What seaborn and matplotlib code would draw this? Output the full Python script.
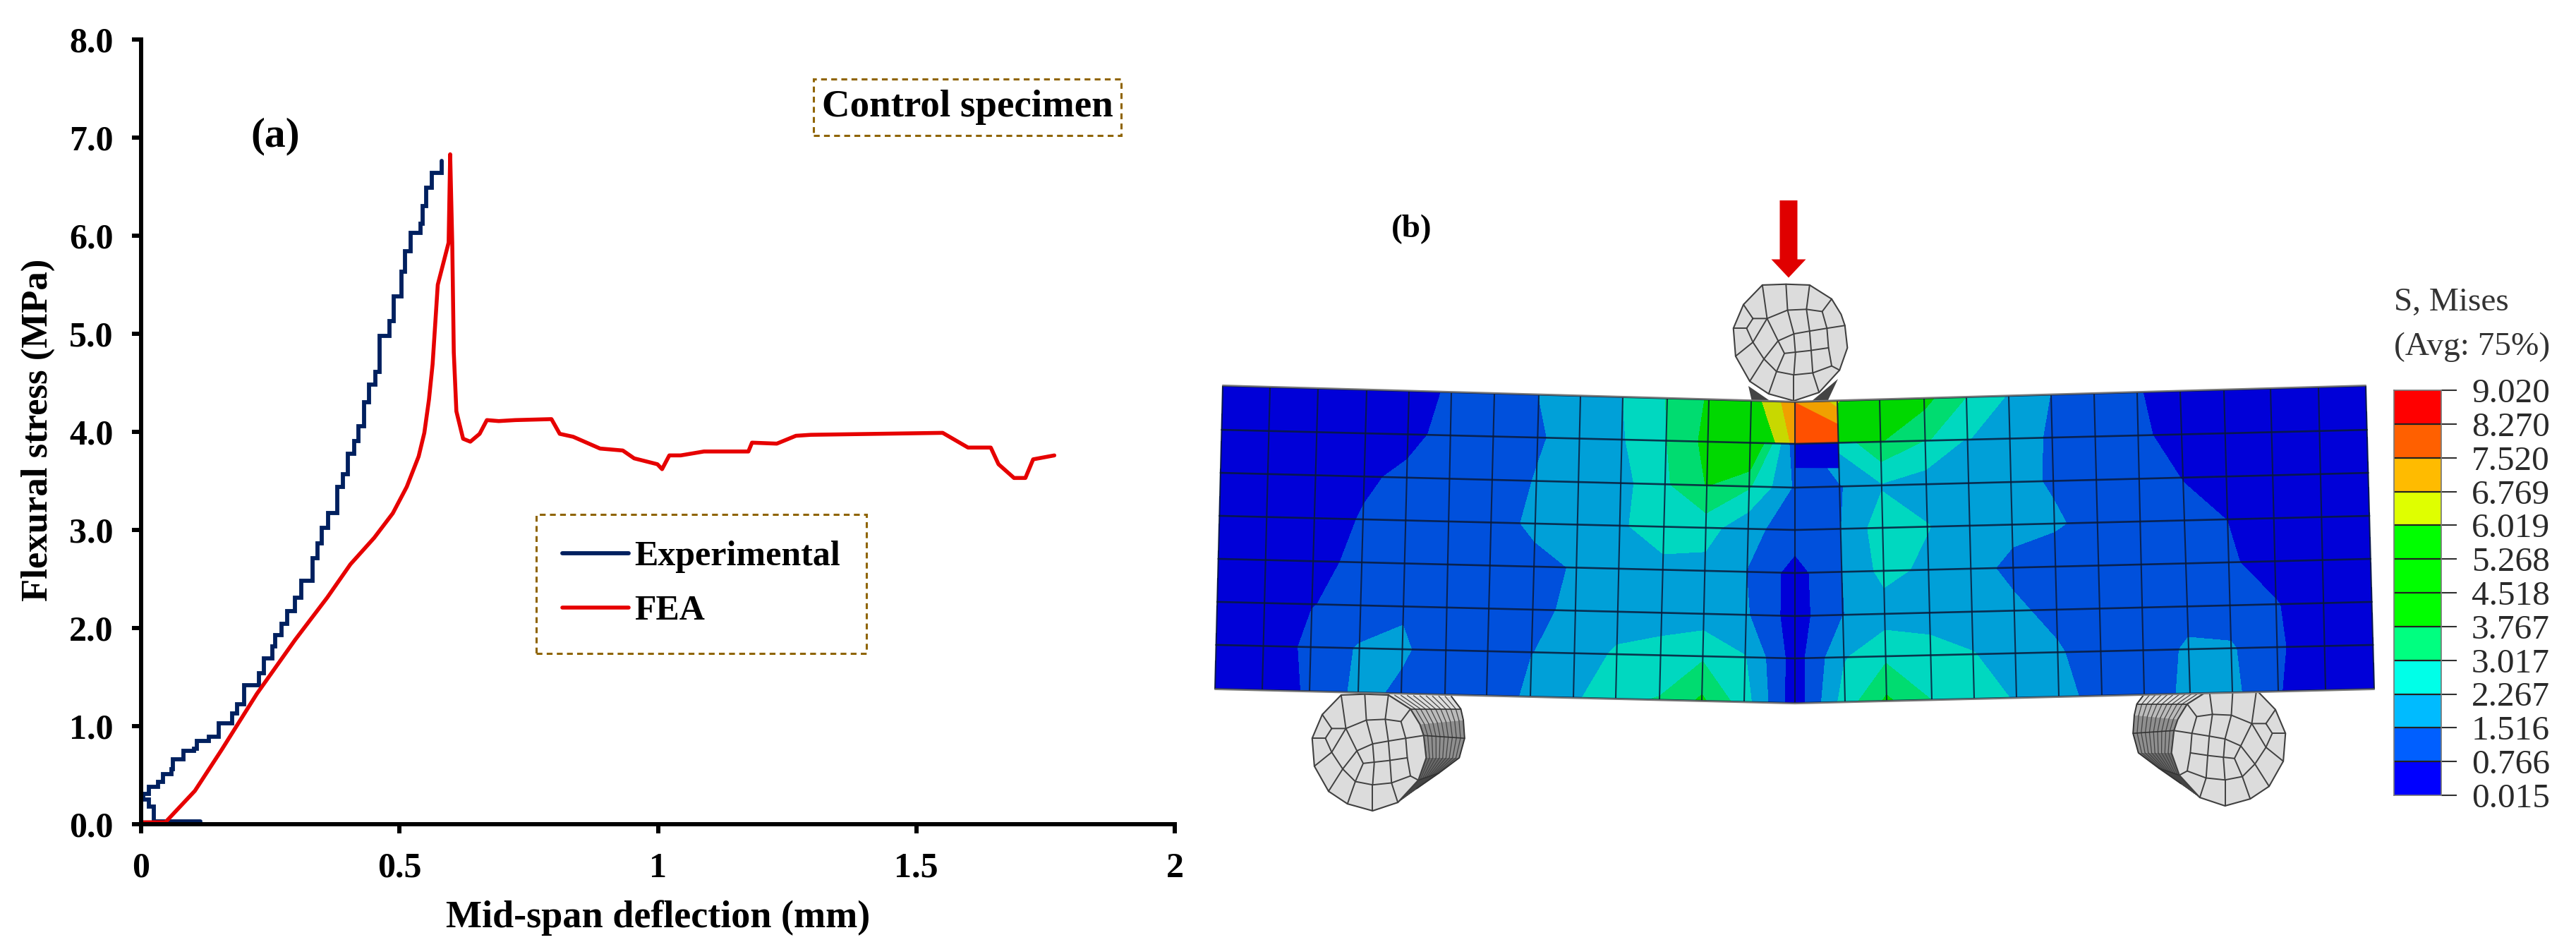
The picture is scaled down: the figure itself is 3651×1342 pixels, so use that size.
import numpy as np
import matplotlib
matplotlib.use("Agg")
import matplotlib.pyplot as plt
from matplotlib.colors import ListedColormap
from matplotlib.patches import FancyArrow, Rectangle
import seaborn as sns

# (a) curves
exp_x = [0.114, 0.025, 0.025, 0.015, 0.004, 0.015, 0.033, 0.043, 0.059, 0.061, 0.082, 0.103, 0.108, 0.131, 0.150,
         0.150, 0.176, 0.186, 0.199, 0.199, 0.228, 0.238, 0.254, 0.259, 0.271, 0.282, 0.298, 0.310, 0.332, 0.332,
         0.341, 0.350, 0.362, 0.380, 0.380, 0.391, 0.400, 0.412, 0.421, 0.432, 0.441, 0.453, 0.462, 0.481,
         0.489, 0.504, 0.511, 0.521, 0.541, 0.545, 0.551, 0.563, 0.582]
exp_y = [0.03, 0.03, 0.18, 0.25, 0.31, 0.38, 0.43, 0.51, 0.56, 0.66, 0.75, 0.77, 0.85, 0.89, 0.94,
         1.03, 1.13, 1.22, 1.32, 1.42, 1.54, 1.69, 1.81, 1.93, 2.04, 2.17, 2.31, 2.48, 2.58, 2.71,
         2.86, 3.02, 3.17, 3.26, 3.44, 3.57, 3.78, 3.91, 4.06, 4.30, 4.48, 4.61, 4.98, 5.13,
         5.38, 5.63, 5.84, 6.03, 6.12, 6.30, 6.49, 6.64, 6.76]
fea_x = [0.0, 0.047, 0.104, 0.156, 0.224, 0.298, 0.360, 0.405, 0.451, 0.487, 0.514, 0.537, 0.548, 0.557, 0.564, 0.574, 0.595,
         0.598, 0.602, 0.605, 0.610, 0.623, 0.637, 0.655, 0.669, 0.692, 0.724, 0.794, 0.810, 0.836, 0.888, 0.932, 0.954,
         0.999, 1.008, 1.022, 1.044, 1.089, 1.175, 1.182, 1.230, 1.267, 1.296, 1.551, 1.600, 1.644, 1.659, 1.689,
         1.711, 1.726, 1.767]
fea_y = [0.02, 0.02, 0.34, 0.76, 1.33, 1.88, 2.31, 2.65, 2.92, 3.17, 3.44, 3.75, 3.99, 4.33, 4.69, 5.50, 5.93,
         6.83, 5.93, 4.81, 4.21, 3.93, 3.90, 3.98, 4.12, 4.11, 4.12, 4.13, 3.98, 3.95, 3.83, 3.81, 3.73,
         3.67, 3.62, 3.76, 3.76, 3.80, 3.80, 3.89, 3.88, 3.96, 3.97, 3.99, 3.84, 3.84, 3.67, 3.53,
         3.53, 3.72, 3.76]
x_ticks = [0, 0.5, 1, 1.5, 2]
x_labels = ["0", "0.5", "1", "1.5", "2"]
y_ticks = [0, 1, 2, 3, 4, 5, 6, 7, 8]
y_labels = ["0.0", "1.0", "2.0", "3.0", "4.0", "5.0", "6.0", "7.0", "8.0"]

# (b) legend of the contour plot
level_labels = ["9.020", "8.270", "7.520", "6.769", "6.019", "5.268", "4.518",
                "3.767", "3.017", "2.267", "1.516", "0.766", "0.015"]
levels = [float(v) for v in level_labels[::-1]]
legend_colors = ["#0000FF", "#005FFF", "#00BBFF", "#00FFE8", "#00FF80", "#00FF00", "#00FF00",
                 "#00FF00", "#DFFF00", "#FFBB00", "#FF6000", "#FF0000"]
beam_colors = ["#0000D8", "#0050DC", "#00A0D8", "#00D8C0", "#00DC70", "#00D800", "#00D800",
               "#00D800", "#C8D800", "#F0A000", "#FF5000", "#E00000"]

# beam mesh, pixel position of the nodes along top and bottom face, and of the rows
top_x = [1733, 1800, 1868, 1937, 1997, 2057, 2118, 2181, 2240, 2300, 2363, 2422, 2482, 2544,
         2604, 2664, 2727, 2787, 2847, 2907, 2968, 3029, 3090, 3152, 3218, 3286, 3353]
bot_x = [1722, 1789, 1856, 1925, 1986, 2048, 2107, 2169, 2230, 2290, 2352, 2412, 2472, 2544,
         2615, 2674, 2738, 2798, 2858, 2918, 2979, 3039, 3104, 3164, 3229, 3296, 3365]
row_end_y = [547, 609, 670, 731, 792, 853, 914, 976]
row_mid_y = [570, 629, 691, 751, 812, 873, 933, 996]

# stress at the nodes, first cell row has its own values because of the jump under the load
stress_row0 = [.4, .4, .4, .4, .6, .82, 1.2, 1.52, 1.9, 2.27, 3.05, 3.85, 5.6, 7.3, 6.1, 4.6, 4.0, 3.0, 2.2, 1.5, 1.2, .8, .55, .4, .4, .4, .4]
stress_row1a = [.35, .35, .4, .5, .65, .9, 1.2, 1.45, 1.75, 2.2, 3.0, 4.0, 4.7, 7.0, 4.6, 3.8, 3.1, 2.3, 1.75, 1.45, 1.2, .85, .6, .4, .4, .4, .4]
stress_row1 = [.35, .35, .4, .5, .65, .9, 1.2, 1.45, 1.75, 2.2, 3.0, 4.0, 5.0, 1.0, 2.5, 3.7, 3.0, 2.2, 1.75, 1.45, 1.2, .85, .6, .4, .4, .4, .4]
stress_row2 = [.35, .35, .45, .7, .85, 1.0, 1.2, 1.55, 1.75, 2.0, 2.9, 3.8, 3.1, 1.4, 1.45, 2.2, 1.9, 1.85, 1.7, 1.45, 1.2, 1.0, .75, .45, .35, .35, .35]
stress_row3 = [.35, .35, .55, .8, .95, 1.1, 1.35, 1.6, 1.8, 2.1, 2.9, 2.6, 1.7, 1.2, 1.5, 2.7, 2.3, 1.9, 1.7, 1.6, 1.3, 1.1, .9, .76, .45, .35, .35]
stress_row4 = [.35, .35, .6, .9, 1.0, 1.1, 1.2, 1.4, 1.55, 1.85, 1.9, 2.0, 1.5, .45, 1.5, 2.5, 2.1, 1.75, 1.35, 1.15, 1.1, 1.0, .95, .85, .5, .35, .35]
stress_row5 = [.4, .4, .75, .9, 1.45, 1.1, 1.0, 1.3, 1.7, 1.8, 1.85, 1.85, 1.6, .4, 1.5, 1.9, 1.9, 1.85, 1.65, 1.3, 1.1, 1.05, 1.3, 1.1, .8, .4, .4]
stress_row6 = [.4, .4, .9, 1.6, 1.6, 1.2, 1.1, 1.5, 1.75, 2.4, 2.6, 2.9, 2.3, .4, 2.2, 2.85, 2.6, 2.3, 1.9, 1.6, 1.1, 1.2, 1.6, 1.6, .85, .4, .4]
stress_row7 = [.4, .4, .85, 1.7, 1.4, 1.0, .95, 1.7, 2.1, 2.9, 3.05, 3.9, 2.6, .3, 2.6, 3.9, 3.0, 2.6, 2.2, 1.7, 1.3, 1.1, 1.7, 1.7, .8, .4, .4]

# roller end face, traced once and reused for all three rollers
roller_outline = [(450, 1175), (525, 1172), (600, 1175), (670, 1225), (700, 1280), (712, 1320), (720, 1400), (695, 1480),
                  (630, 1560), (550, 1590), (470, 1565), (410, 1520), (365, 1430), (358, 1330), (390, 1245)]
roller_lines = [
    [(420, 1295), (465, 1295), (530, 1265), (590, 1262), (640, 1270), (655, 1330), (660, 1400), (670, 1465), (610, 1490),
     (550, 1497), (495, 1485), (455, 1440), (420, 1380), (400, 1330), (420, 1295)],
    [(390, 1245), (420, 1295)], [(450, 1175), (465, 1295)], [(525, 1172), (530, 1265)], [(600, 1175), (590, 1262)],
    [(670, 1225), (640, 1270)], [(712, 1320), (655, 1330)], [(358, 1330), (400, 1330)], [(365, 1430), (420, 1380)],
    [(410, 1520), (455, 1440)], [(470, 1565), (495, 1485)], [(550, 1590), (550, 1497)], [(630, 1560), (610, 1490)],
    [(695, 1480), (670, 1465)],
    [(465, 1295), (500, 1375), (520, 1420), (495, 1485)], [(420, 1380), (465, 1295)], [(455, 1440), (500, 1375)],
    [(500, 1375), (550, 1350), (600, 1340), (655, 1330)], [(520, 1420), (600, 1410), (660, 1400)],
    [(530, 1265), (550, 1350), (555, 1420), (550, 1497)], [(590, 1262), (600, 1340), (605, 1410), (610, 1490)],
]
side_inner = [(600, 1175), (670, 1225), (700, 1280), (712, 1320), (720, 1400), (695, 1480), (630, 1560)]
side_outer = [(800, 1180), (830, 1225), (838, 1265), (842, 1330), (825, 1400), (760, 1455), (690, 1510)]

W, H = 3651, 1342
box_color = "#8F6400"
box_dash = (0, (2.7, 2.0))
sns.set_style("ticks", {"text.color": "black", "axes.labelcolor": "black", "axes.edgecolor": "black",
                        "xtick.color": "black", "ytick.color": "black"})
plt.rcParams["font.family"] = ["Liberation Serif", "DejaVu Serif"]

fig = plt.figure(figsize=(W / 100, H / 100), dpi=100)
ax_b = fig.add_axes([0, 0, 1, 1], zorder=0)
ax_b.set_xlim(0, W)
ax_b.set_ylim(H, 0)
ax_b.axis("off")


def px_axes(left, top, right, bottom, **kw):
    return fig.add_axes([left / W, 1 - bottom / H, (right - left) / W, (bottom - top) / H], **kw)


# ---- panel (a)
ax = px_axes(200, 56, 1665, 1168, zorder=1)
ax.patch.set_alpha(0)
sns.lineplot(x=exp_x, y=exp_y, ax=ax, sort=False, estimator=None, color="#00205F", linewidth=4.2,
             drawstyle="steps-post", label="Experimental", solid_joinstyle="miter")
sns.lineplot(x=fea_x, y=fea_y, ax=ax, sort=False, estimator=None, color="#E60000", linewidth=4.0, label="FEA")
ax.set_xlim(0, 2)
ax.set_ylim(0, 8)
ax.set_xticks(x_ticks, x_labels)
ax.set_yticks(y_ticks, y_labels)
ax.tick_params(length=9.5, width=4.3, labelsize=36, pad=19, color="black")
for lab in ax.get_xticklabels() + ax.get_yticklabels():
    lab.set_fontweight("bold")
for line in ax.get_lines():
    line.set_clip_on(False)
sns.despine(ax=ax)
ax.spines["left"].set_linewidth(4.3)
ax.spines["bottom"].set_linewidth(4.3)
ax.set_xlabel("Mid-span deflection (mm)", fontsize=39, fontweight="bold", va="center")
ax.set_ylabel("Flexural stress (MPa)", fontsize=38, fontweight="bold", va="center")
ax.xaxis.set_label_coords(0.5, -0.119)
ax.yaxis.set_label_coords(-0.0997, 0.502)

ax.text(0.259, 7.01, "(a)", fontsize=43, fontweight="bold", ha="center", va="center")
ax.add_patch(Rectangle((1.301, 7.02), 0.595, 0.58, fill=False, ec=box_color, ls=box_dash, lw=2.2))
ax.text(1.599, 7.31, "Control specimen", fontsize=39.5, fontweight="bold", ha="center", va="center")

leg = ax.legend(loc="upper left", bbox_to_anchor=((760 - 200) / 1465, (1168 - 729) / 1112), borderaxespad=0,
                fancybox=False, facecolor="none", framealpha=1, edgecolor=box_color, handlelength=1.88, handletextpad=0.16,
                labelspacing=0.62, borderpad=0.74, prop={"size": 36, "weight": "bold"})
leg.get_frame().set_linestyle(box_dash)
leg.get_frame().set_linewidth(2.2)

# ---- panel (b), beam contour on the mesh
stress = np.array([stress_row1, stress_row2, stress_row3, stress_row4, stress_row5, stress_row6, stress_row7])
frac = np.arange(8) / 7
node_x = np.array([np.array(top_x) + (np.array(bot_x) - np.array(top_x)) * f for f in frac])
mid_dist = np.abs(node_x - 2544) / 815
node_y = np.array([row_mid_y[r] + (row_end_y[r] - row_mid_y[r]) * mid_dist[r] for r in range(8)])

ax_b.contourf(node_x[:2], node_y[:2], np.array([stress_row0, stress_row1a]), levels=levels, colors=beam_colors, zorder=3)
ax_b.contourf(node_x[1:], node_y[1:], stress, levels=levels, colors=beam_colors, zorder=3)


def cell_pt(c, r, u, v):
    top = (1 - u) * np.array([node_x[r, c], node_y[r, c]]) + u * np.array([node_x[r, c + 1], node_y[r, c + 1]])
    low = (1 - u) * np.array([node_x[r + 1, c], node_y[r + 1, c]]) + u * np.array([node_x[r + 1, c + 1], node_y[r + 1, c + 1]])
    return (1 - v) * top + v * low


def fill_cell(corners, color):
    pts = np.array([cell_pt(13, r, u, v) for r, u, v in corners])
    ax_b.fill(pts[:, 0], pts[:, 1], color=color, lw=0, zorder=3.2)


# the element under the load has no smooth transition to its neighbours
fill_cell([(0, 0, 0), (0, 1, 0), (0, 1, 1), (0, 0, 1)], "#FF5000")
fill_cell([(0, 0, 0), (0, 1, 0), (0, 1, 0.55)], "#F0A000")
fill_cell([(0, 0.8, 0), (0, 1, 0), (0, 1, 0.15)], "#C8D800")
fill_cell([(1, 0, 0), (1, 1, 0), (1, 1, 0.58), (1, 0, 0.55)], "#0000D8")

# mesh lines
for r in range(8):
    ax_b.plot(node_x[r], node_y[r], color="#0A1A3A", lw=1.9 if 0 < r < 7 else 1.2, alpha=0.85, zorder=4)
for c in range(27):
    ax_b.plot(node_x[:, c], node_y[:, c], color="#0A1A3A", lw=1.5, alpha=0.85, zorder=4)
ax_b.plot(node_x[0], node_y[0] - 1, color="#777777", lw=1.6, zorder=4.1)
ax_b.plot(node_x[7], node_y[7] + 1, color="#777777", lw=1.6, zorder=4.1)


# rollers
def roller_pts(pts, cx, cy, flip):
    pts = np.array(pts, dtype=float)
    return cx + flip * (pts[:, 0] - 540) / 2.24, cy + (pts[:, 1] - 1375) / 2.529


def draw_roller(cx, cy, flip=1, side=True):
    if side:
        xi, yi = roller_pts(side_inner, cx, cy, flip)
        xo, yo = roller_pts(side_outer, cx, cy, flip)
        for t in range(len(xi) - 1):
            shade = ["#DDDDDD", "#BBBBBB", "#8F8F8F", "#8F8F8F", "#6A6A6A", "#5A5A5A"][t]
            ax_b.fill([xi[t], xi[t + 1], xo[t + 1], xo[t]], [yi[t], yi[t + 1], yo[t + 1], yo[t]], color=shade, lw=0, zorder=1)
            for k in np.arange(0.1, 1.0, 0.1):
                ax_b.plot([xi[t] + (xo[t] - xi[t]) * k, xi[t + 1] + (xo[t + 1] - xi[t + 1]) * k],
                          [yi[t] + (yo[t] - yi[t]) * k, yi[t + 1] + (yo[t + 1] - yi[t + 1]) * k],
                          color="#444444", lw=0.9, zorder=1.1)
        ax_b.plot(xi, yi, color="#333333", lw=1.2, zorder=1.2)
        ax_b.plot(xo, yo, color="#333333", lw=1.4, zorder=1.2)
        for t in range(1, len(xi), 2):
            ax_b.plot([xi[t], xo[t]], [yi[t], yo[t]], color="#333333", lw=1.2, zorder=1.2)
    ox, oy = roller_pts(roller_outline, cx, cy, flip)
    ax_b.fill(ox, oy, facecolor="#DCDCDC", edgecolor="#404040", lw=1.5, zorder=2)
    for seg in roller_lines:
        sx, sy = roller_pts(seg, cx, cy, flip)
        ax_b.plot(sx, sy, color="#404040", lw=1.4, zorder=2.1)


draw_roller(1941, 1064, flip=1)
draw_roller(3158, 1057, flip=-1)
draw_roller(2538, 483, side=False)
ax_b.fill([2478, 2510, 2483], [547, 569, 569], color="#444444", lw=0, zorder=2.2)
ax_b.fill([2605, 2567, 2590], [537, 569, 569], color="#444444", lw=0, zorder=2.2)

# load arrow and panel letter
ax_b.add_patch(FancyArrow(2535, 284, 0, 109.5, width=25, head_width=49, head_length=26,
                          length_includes_head=True, color="#E00000", lw=0, zorder=5))
ax_b.text(2001, 325, "(b)", fontsize=34, fontweight="bold", ha="center", va="center")

# ---- contour legend
ax_leg = px_axes(3393, 553, 3460, 1127, zorder=1)
sns.heatmap(np.arange(12)[::-1].reshape(-1, 1), ax=ax_leg, cmap=ListedColormap(legend_colors), cbar=False,
            xticklabels=False, linewidths=0, vmin=-0.5, vmax=11.5)
ax_leg.set_yticks(np.arange(13), level_labels, rotation=0)
ax_leg.yaxis.tick_right()
ax_leg.tick_params(axis="y", length=16, width=1.5, color="#303030", labelsize=35.5, pad=15, labelcolor="#2A2A2A")
for y in range(1, 12):
    ax_leg.axhline(y, color="#222222", lw=1.6)
for side in ax_leg.spines.values():
    side.set_visible(True)
    side.set_color("#777777")
    side.set_linewidth(1.2)
ax_b.text(3393, 429, "S, Mises", fontsize=34, color="#333333", ha="left", va="center")
ax_b.text(3393, 492, "(Avg: 75%)", fontsize=34, color="#333333", ha="left", va="center")

fig.savefig("out.png", dpi=100)
